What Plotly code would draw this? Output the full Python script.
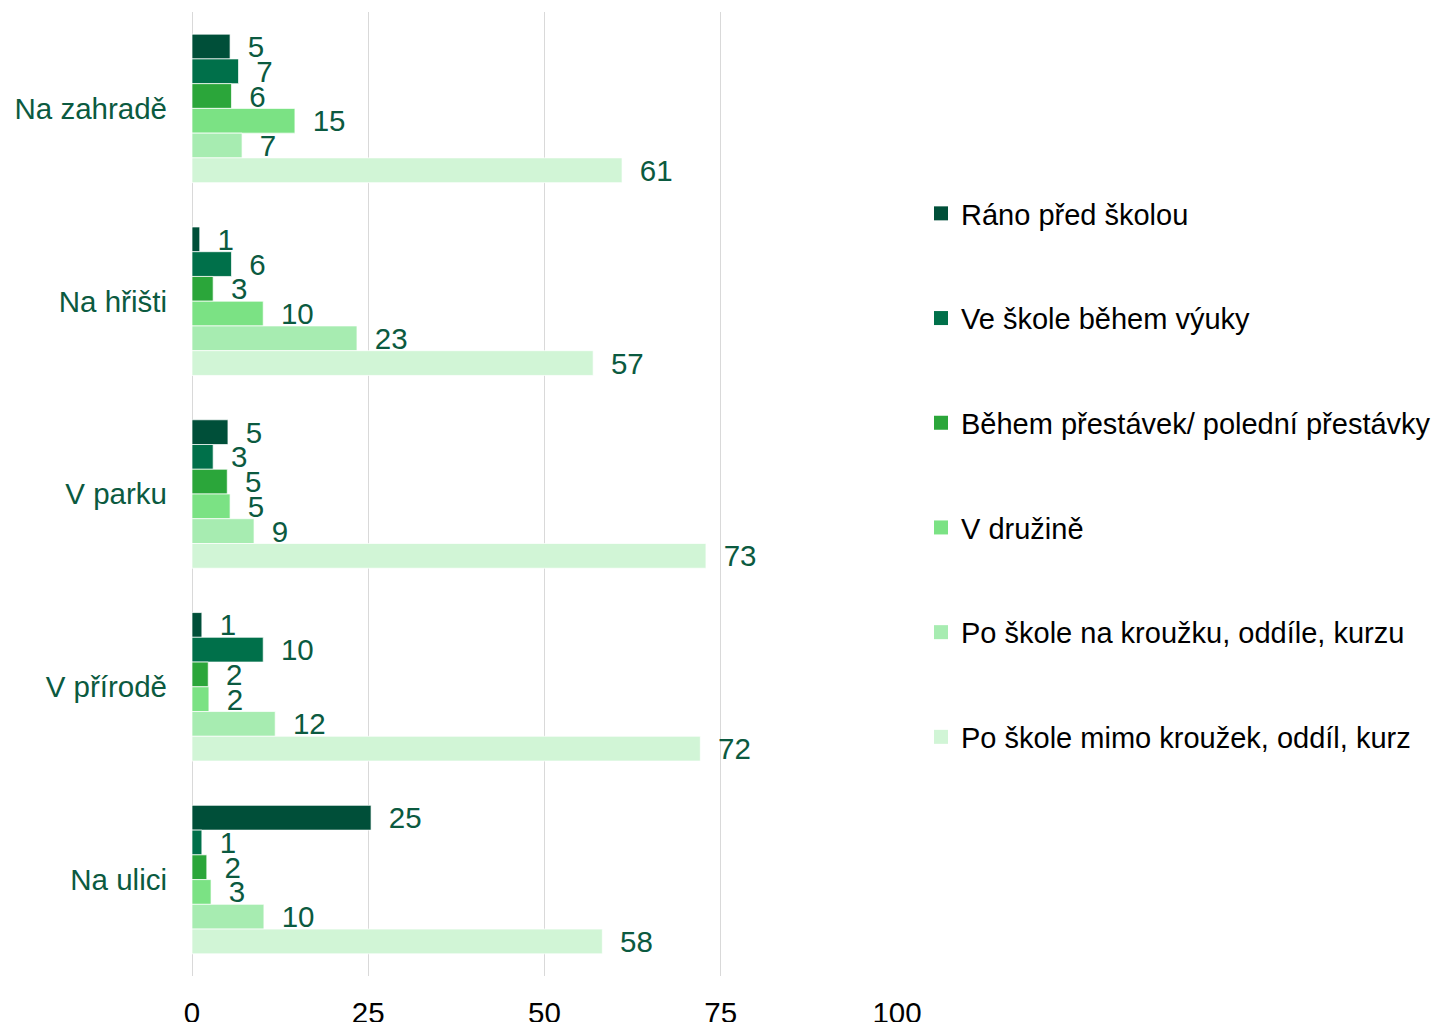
import plotly.graph_objects as go

categories = ["Na zahradě", "Na hřišti", "V parku", "V přírodě", "Na ulici"]
series_names = [
    "Ráno před školou",
    "Ve škole během výuky",
    "Během přestávek/ polední přestávky",
    "V družině",
    "Po škole na kroužku, oddíle, kurzu",
    "Po škole mimo kroužek, oddíl, kurz",
]
rano = [5.4, 1.1, 5.1, 1.4, 25.4]
vyuka = [6.6, 5.6, 3.0, 10.1, 1.4]
prestavky = [5.6, 3.0, 5.0, 2.3, 2.1]
druzina = [14.6, 10.1, 5.4, 2.4, 2.7]
krouzek = [7.1, 23.4, 8.8, 11.8, 10.2]
mimo = [61.0, 56.9, 72.9, 72.1, 58.2]
series_values = [rano, vyuka, prestavky, druzina, krouzek, mimo]
x_ticks = [0, 25, 50, 75, 100]

colors = ["#004f39", "#00704a", "#2ba63a", "#7be284", "#a7ecb1", "#d1f5d6"]
label_color = "#0b5a40"
FONT = "Liberation Sans, Arial, sans-serif"
FS = 29.5

# page body adds an 8px offset, so the figure is 8px smaller than the window
W, H = 1434, 1014

fig = go.Figure()
for i, (name, vals) in enumerate(zip(series_names, series_values)):
    fig.add_trace(go.Bar(
        y=categories, x=vals, name=name, orientation="h",
        marker=dict(color=colors[i], line=dict(width=1, color="rgba(255,255,255,0.7)")),
        text=[f"{round(v):d}" for v in vals],
        texttemplate="\u2002%{text}",
        textposition="outside",
        textfont=dict(family=FONT, size=FS, color=label_color),
        constraintext="none",
        cliponaxis=False,
        showlegend=False,
        hoverinfo="skip",
    ))
    fig.add_trace(go.Scatter(
        x=[None], y=[None], mode="markers", name=name,
        marker=dict(symbol="square", size=14, color=colors[i]),
        legendgroup=f"g{i}", showlegend=True, hoverinfo="skip",
    ))

fig.update_layout(
    width=W, height=H,
    margin=dict(l=184, r=545, t=4, b=46, autoexpand=False),
    paper_bgcolor="white", plot_bgcolor="white",
    barmode="group", bargap=0.23, bargroupgap=0,
    font=dict(family=FONT, size=FS, color="black"),
    showlegend=True,
    legend=dict(
        x=913 / W, xref="container", xanchor="left",
        y=1 - 180 / H, yref="container", yanchor="top",
        traceorder="grouped", tracegroupgap=64,
        font=dict(family=FONT, size=29, color="black"),
        itemwidth=30, bgcolor="rgba(0,0,0,0)", maxheight=1000,
    ),
)
fig.update_xaxes(
    range=[0, 100], tickvals=x_ticks, ticktext=[str(t) for t in x_ticks],
    showgrid=True, gridcolor="#d9d9d9", gridwidth=1,
    zeroline=True, zerolinecolor="#d9d9d9", zerolinewidth=1,
    showline=False, ticks="", ticklabelstandoff=16, automargin=False,
    tickfont=dict(family=FONT, size=FS, color="black"),
)
fig.update_yaxes(
    categoryorder="array", categoryarray=categories, autorange="reversed",
    showgrid=False, showline=False, ticks="", ticklabelstandoff=24, automargin=False,
    tickfont=dict(family=FONT, size=FS, color=label_color),
)

fig.write_html("out.html")
